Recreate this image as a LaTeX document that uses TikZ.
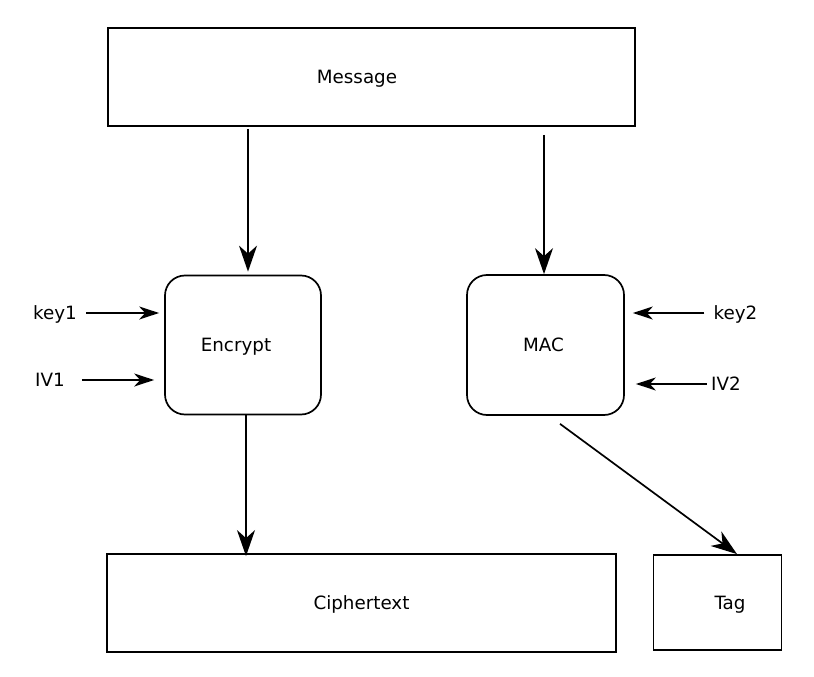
\documentclass[tikz,border=0pt]{standalone}
\usepackage{fontspec}
\setmainfont{DejaVu Sans}
\usetikzlibrary{arrows.meta,calc}
\begin{document}
\begin{tikzpicture}[x=1pt,y=-1pt,
  every node/.style={font=\fontsize{18.3}{22}\selectfont, text height=13.3pt, text depth=0pt},
  sqbox/.style={draw, line width=1.8pt, inner sep=0pt},
  rbox/.style={draw, line width=1.7pt, rounded corners=20pt, inner sep=0pt},
  lbl/.style={inner sep=0pt},
  bigarr/.style={line width=1.7pt, -{Stealth[length=26pt,width=18pt,inset=8pt]}},
  smallarr/.style={line width=1.5pt, -{Stealth[length=20pt,width=13pt,inset=6pt]}}]
\useasboundingbox (0,0) rectangle (814,677);
\fill[white] (0,0) rectangle (814,677);
\node[sqbox, minimum width=527pt, minimum height=98pt,
  label={[lbl,xshift=-14.5pt]center:Message}] (msg) at (371.5,77) {};
\node[rbox, minimum width=156pt, minimum height=139pt,
  label={[lbl,xshift=-7pt]center:Encrypt}] (enc) at (243,345) {};
\node[rbox, minimum width=157pt, minimum height=140pt,
  label={[lbl,xshift=-2pt]center:MAC}] (mac) at (545.5,345) {};
\node[sqbox, minimum width=509pt, minimum height=98pt] (ciph) at (361.5,603) {Ciphertext};
\node[sqbox, minimum width=128pt, minimum height=95pt,
  label={[lbl,xshift=12.5pt]center:Tag}] (tag) at (717.5,602.5) {};
\node[lbl] (key1) at (55,313) {key1};
\node[lbl] (iv1) at (50,380) {IV1};
\node[lbl] (key2) at (735.5,313) {key2};
\node[lbl] (iv2) at (726,384) {IV2};
\draw[bigarr] ($(msg.south -| enc.north)+(5,2)$) -- ($(enc.north)+(5,-3)$);
\draw[bigarr] ($(msg.south -| mac.north)+(-1.5,8)$) -- ($(mac.north)+(-1.5,0)$);
\draw[bigarr] ($(enc.south)+(3,0)$) -- ($(enc.south |- ciph.north)+(3,3)$);
\draw[bigarr] ($(mac.south)+(14.5,8)$) -- ($(tag.north)+(19.5,0)$);
\draw[smallarr] ($(key1.east)+(9,0)$) -- ($(key1 -| enc.west)+(-5,0)$);
\draw[smallarr] ($(iv1.east)+(17,0)$) -- ($(iv1 -| enc.west)+(-10,0)$);
\draw[smallarr] ($(key2.west)+(-9,0)$) -- ($(key2 -| mac.east)+(8,0)$);
\draw[smallarr] ($(iv2.west)+(-4.5,0)$) -- ($(iv2 -| mac.east)+(11,0)$);
\end{tikzpicture}
\end{document}
